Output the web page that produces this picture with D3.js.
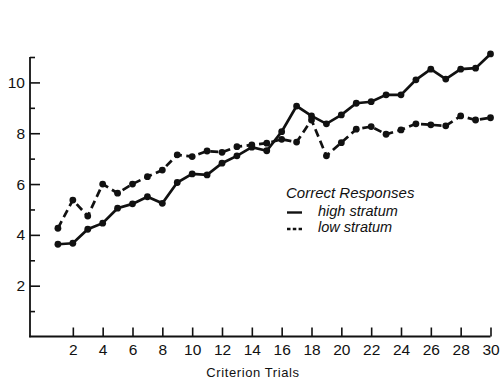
<!DOCTYPE html>
<html>
<head>
<style>
	body { margin: 0; background: #fff; }
	svg { display: block; font-family: "Liberation Sans", Arial, sans-serif; }
</style>
</head>
<body>
<div id="chart"></div>
<script src="https://d3js.org/d3.v7.min.js"></script>
<script>

// values
var trials = [1,2,3,4,5,6,7,8,9,10,11,12,13,14,15,16,17,18,19,20,21,22,23,24,25,26,27,28,29,30];
var highStratum = [3.63,3.67,4.22,4.46,5.05,5.22,5.50,5.24,6.06,6.40,6.36,6.82,7.11,7.45,7.31,
	8.06,9.07,8.68,8.37,8.72,9.18,9.24,9.51,9.51,10.10,10.52,10.13,10.52,10.56,11.12];
var lowStratum = [4.26,5.37,4.74,6.00,5.64,6.00,6.29,6.55,7.15,7.08,7.30,7.25,7.47,7.54,7.61,
	7.76,7.65,8.52,7.11,7.63,8.16,8.26,7.96,8.13,8.37,8.33,8.29,8.68,8.52,8.61];
var xTicks = [2,4,6,8,10,12,14,16,18,20,22,24,26,28,30];
var yTicks = [2,4,6,8,10];
var yMinor = [1,3,5,7,9,11];

var width = 504, height = 380;
var ink = "#111";

var svg = d3.select("#chart").append("svg")
	.attr("width", width)
	.attr("height", height);

var x = d3.scaleLinear().domain([0, 30]).range([43, 490.5]);
var y = d3.scaleLinear().domain([0, 11]).range([336.5, 57]);
var axisLeftX = 30;

// axes
var yAxis = svg.append("g")
	.attr("transform", "translate(" + axisLeftX + ",0)")
	.call(d3.axisLeft(y).tickValues(yTicks).tickSize(-10).tickPadding(5).tickFormat(d3.format("d")));
var yAxisMinor = svg.append("g")
	.attr("transform", "translate(" + axisLeftX + ",0)")
	.call(d3.axisLeft(y).tickValues(yMinor).tickSize(-5).tickFormat(""));
var xAxis = svg.append("g")
	.attr("transform", "translate(0," + y(0) + ")")
	.call(d3.axisBottom(x).tickValues(xTicks).tickSize(-9).tickPadding(7).tickFormat(d3.format("d")));

[yAxis, yAxisMinor, xAxis].forEach(function(g){
	g.select(".domain").remove();
	g.selectAll("line").attr("stroke", ink).attr("stroke-width", 1.6);
	g.selectAll("text").attr("fill", ink).attr("font-size", 15.5);
});

svg.append("line")
	.attr("x1", axisLeftX).attr("x2", axisLeftX)
	.attr("y1", y(11)).attr("y2", y(0) + 0.8)
	.attr("stroke", ink).attr("stroke-width", 1.8);
svg.append("line")
	.attr("x1", axisLeftX - 0.8).attr("x2", x(30))
	.attr("y1", y(0)).attr("y2", y(0))
	.attr("stroke", ink).attr("stroke-width", 1.8);

svg.append("text")
	.attr("x", 253).attr("y", 377)
	.attr("text-anchor", "middle")
	.attr("font-size", 13)
	.attr("letter-spacing", 0.6)
	.attr("fill", ink)
	.text("Criterion Trials");

// series
var series = [
	{ name: "high stratum", values: highStratum, dash: null },
	{ name: "low stratum", values: lowStratum, dash: "8,4.5" }
];

var line = d3.line()
	.x(function(d){ return x(d.t); })
	.y(function(d){ return y(d.v); });

series.forEach(function(s){
	var pts = trials.map(function(t, i){ return { t: t, v: s.values[i] }; });
	svg.append("path")
		.datum(pts)
		.attr("d", line)
		.attr("fill", "none")
		.attr("stroke", ink)
		.attr("stroke-width", 2.7)
		.attr("stroke-dasharray", s.dash);
	svg.selectAll(null)
		.data(pts)
		.enter().append("circle")
		.attr("cx", function(d){ return x(d.t); })
		.attr("cy", function(d){ return y(d.v); })
		.attr("r", 3.4)
		.attr("fill", ink);
});

// legend
var legend = svg.append("g").attr("font-style", "italic").attr("fill", ink);
legend.append("text")
	.attr("x", 286).attr("y", 198)
	.attr("font-size", 15)
	.text("Correct Responses");
series.forEach(function(s, i){
	var ly = 212.5 + i * 16.5;
	legend.append("line")
		.attr("x1", 287).attr("x2", 302)
		.attr("y1", ly).attr("y2", ly)
		.attr("stroke", ink)
		.attr("stroke-width", 2.4)
		.attr("stroke-dasharray", s.dash ? "3.5,2.3" : null);
	legend.append("text")
		.attr("x", 318).attr("y", ly + 3)
		.attr("font-size", 14.5)
		.text(s.name);
});

</script>
</body>
</html>
